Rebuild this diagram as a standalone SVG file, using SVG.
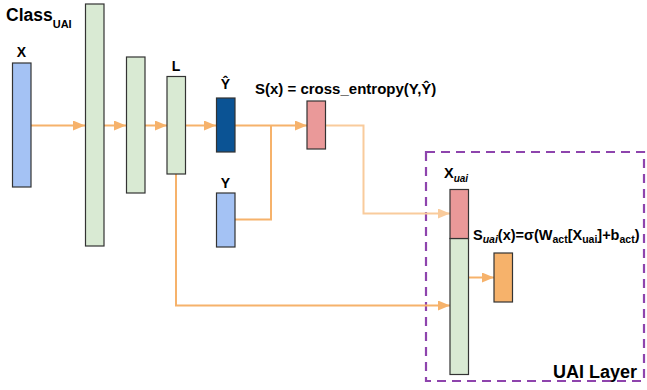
<svg xmlns="http://www.w3.org/2000/svg" width="647" height="390" viewBox="0 0 647 390">
<defs>
<marker id="ah" viewBox="0 0 12 10" refX="12" refY="5" markerWidth="12" markerHeight="10" markerUnits="userSpaceOnUse" orient="auto">
<path d="M0,0 L12,5 L0,10 Z" fill="#f6b26b"/>
</marker>
<marker id="ahl" viewBox="0 0 12 10" refX="12" refY="5" markerWidth="12" markerHeight="10" markerUnits="userSpaceOnUse" orient="auto">
<path d="M0,0 L12,5 L0,10 Z" fill="#f9cb9c"/>
</marker>
<style>
.box{stroke:#333;stroke-width:1.2}
.blue{fill:#a4c2f4}
.green{fill:#d9ead3}
.dark{fill:#0b5394}
.pink{fill:#ea9999}
.orange{fill:#f6b26b}
.t{font-family:"Liberation Sans",Arial,sans-serif;font-weight:bold;fill:#000}
.c{fill:none;stroke:#f6b26b;stroke-width:2}
.cl{fill:none;stroke:#f9cb9c;stroke-width:2}
</style>
</defs>
<rect width="647" height="390" fill="#fff"/>

<g id="uai-layer">
<rect x="426" y="152" width="218" height="229" fill="none" stroke="#8e44ad" stroke-width="2.2" stroke-dasharray="9,6"/>
<text class="t" x="553" y="378" font-size="18">UAI Layer</text>
</g>

<g id="title"><text class="t" x="6" y="21" font-size="17.5">Class<tspan font-size="11" dy="7">UAI</tspan></text></g>

<g id="connectors">
<line class="c" x1="31" y1="125.5" x2="85" y2="125.5" marker-end="url(#ah)"/>
<line class="c" x1="104" y1="125.5" x2="126" y2="125.5" marker-end="url(#ah)"/>
<line class="c" x1="145" y1="125.5" x2="167" y2="125.5" marker-end="url(#ah)"/>
<line class="c" x1="185" y1="125.5" x2="216" y2="125.5" marker-end="url(#ah)"/>
<line class="c" x1="235" y1="125.5" x2="307" y2="125.5" marker-end="url(#ah)"/>
<polyline class="c" points="235,219.5 271,219.5 271,125.5"/>
<polyline class="cl" points="326,125.5 363.5,125.5 363.5,213.5 450,213.5" marker-end="url(#ahl)"/>
<polyline class="c" points="176,174 176,305.5 450,305.5" marker-end="url(#ah)"/>
<line class="c" x1="469" y1="277.5" x2="494" y2="277.5" marker-end="url(#ah)"/>
</g>

<g id="x"><rect class="box blue" x="12.5" y="63" width="18.5" height="124"/><text class="t" x="21.5" y="57" font-size="14" text-anchor="middle">X</text></g>
<g id="h1"><rect class="box green" x="85.5" y="4" width="18.5" height="242"/></g>
<g id="h2"><rect class="box green" x="126.5" y="57" width="18.5" height="136"/></g>
<g id="l"><rect class="box green" x="167" y="76.5" width="18.5" height="97.5"/><text class="t" x="176" y="71" font-size="14" text-anchor="middle">L</text></g>
<g id="yhat"><rect class="box dark" x="216.5" y="98" width="18.5" height="54"/><text class="t" x="225.5" y="89" font-size="14" text-anchor="middle">Ŷ</text></g>
<g id="y"><rect class="box blue" x="216.5" y="193" width="18.5" height="54"/><text class="t" x="225.5" y="188" font-size="14" text-anchor="middle">Y</text></g>
<g id="sx"><rect class="box pink" x="307" y="101" width="18.5" height="48"/><text class="t" x="255" y="94" font-size="15">S(x) = cross_entropy(Y,Ŷ)</text></g>
<g id="xuai">
<rect class="box green" x="450" y="238.5" width="18.5" height="136"/>
<rect class="box pink" x="450" y="189.5" width="18.5" height="49"/>
<text class="t" x="444" y="178" font-size="14.5">X<tspan font-size="10" font-style="italic" dy="4">uai</tspan></text>
</g>
<g id="suai">
<rect class="box orange" x="494" y="253" width="18.5" height="49"/>
<text class="t" x="473" y="240" font-size="14.5">S<tspan font-size="10.5" font-style="italic" dy="3">uai</tspan><tspan dy="-3">(x)=σ(W</tspan><tspan font-size="10.5" dy="3">act</tspan><tspan dy="-3">[X</tspan><tspan font-size="10.5" dy="3">uai</tspan><tspan dy="-3">]+b</tspan><tspan font-size="10.5" dy="3">act</tspan><tspan dy="-3">)</tspan></text>
</g>
</svg>
